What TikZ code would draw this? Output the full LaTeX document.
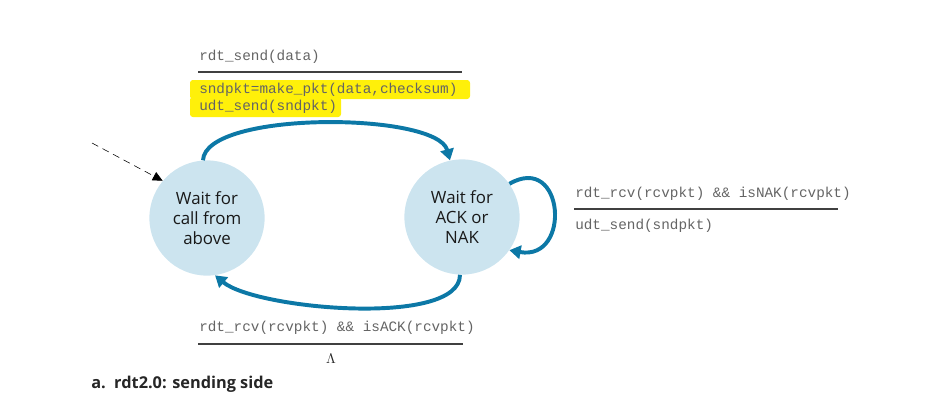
\documentclass[tikz,border=0pt]{standalone}
\usepackage{fontspec}
\setmainfont{Open Sans}
\setmonofont{Liberation Mono}
\usepackage{tikz}
\usetikzlibrary{arrows.meta,positioning}
\definecolor{fsmblue}{RGB}{12,120,166}
\definecolor{statefill}{RGB}{204,228,239}
\definecolor{codegray}{RGB}{100,100,100}
\definecolor{marker}{RGB}{255,240,10}
\tikzstyle{state}=[circle, fill=statefill, minimum size=2.88cm, inner sep=0pt, align=center, font=\fontsize{12}{14.2}\selectfont, text=black!90]
\tikzstyle{trans}=[line width=2.8pt, draw=fsmblue, -{Triangle[length=8pt,width=9.5pt]}]
\tikzstyle{initarrow}=[thin, black, dash pattern=on 5pt off 3.5pt, -{Triangle[length=7pt,width=6.5pt]}]
\tikzstyle{code}=[anchor=west, inner sep=0pt, text=codegray, font=\ttfamily\fontsize{10.2}{12}\selectfont]
\tikzstyle{rule}=[line width=1pt, draw=black!75]

\begin{document}
\begin{tikzpicture}[x=0.025cm, y=-0.025cm]
	\useasboundingbox (0,0) rectangle (928,402);
	\fill[marker, rounded corners=2pt] (190,80) rectangle (470,99);
	\fill[marker, rounded corners=2pt] (190,97) rectangle (341,117);

	\node[state] (wait) at (207,218) {Wait for\\call from\\above};
	\node[state] (ack) at (462,217) {Wait for\\ACK or\\NAK};
	\coordinate (init) at (92,143);

	\draw[initarrow] (init) -- (wait.140);
	\draw[trans] (wait.94) to[out=87, in=105, looseness=0.52] (ack.102);
	\draw[trans] (ack.-92) to[out=-90, in=-40, looseness=0.55] (wait.-82);
	\draw[trans] (ack.35) to[out=30, in=-10, looseness=2.45] (ack.-35);

	\node[code] (sendev) at (199,57) {rdt\_send(data)};
	\coordinate (sendbarL) at (198,72);
	\coordinate (sendbarR) at (462,72);
	\draw[rule] (sendbarL) -- (sendbarR);
	\node[code] (sendact1) at (199,90) {sndpkt=make\_pkt(data,checksum)};
	\node[code] (sendact2) at (199,107) {udt\_send(sndpkt)};

	\node[code] (nakev) at (575,194) {rdt\_rcv(rcvpkt) \&\& isNAK(rcvpkt)};
	\coordinate (nakbarL) at (574,209);
	\coordinate (nakbarR) at (838,209);
	\draw[rule] (nakbarL) -- (nakbarR);
	\node[code] (nakact) at (575,226) {udt\_send(sndpkt)};

	\node[code] (ackev) at (199,328) {rdt\_rcv(rcvpkt) \&\& isACK(rcvpkt)};
	\coordinate (ackbarL) at (198,344);
	\coordinate (ackbarR) at (463,344);
	\draw[rule] (ackbarL) -- (ackbarR);
	\node[inner sep=0pt, text=black!85] (ackact) at (331,359) {$\Lambda$};

	\node[anchor=west, inner sep=0pt, font=\bfseries\fontsize{11.6}{13}\selectfont, text=black!85] (caption) at (91,384) {a.\ \ rdt2.0: sending side};
\end{tikzpicture}
\end{document}
